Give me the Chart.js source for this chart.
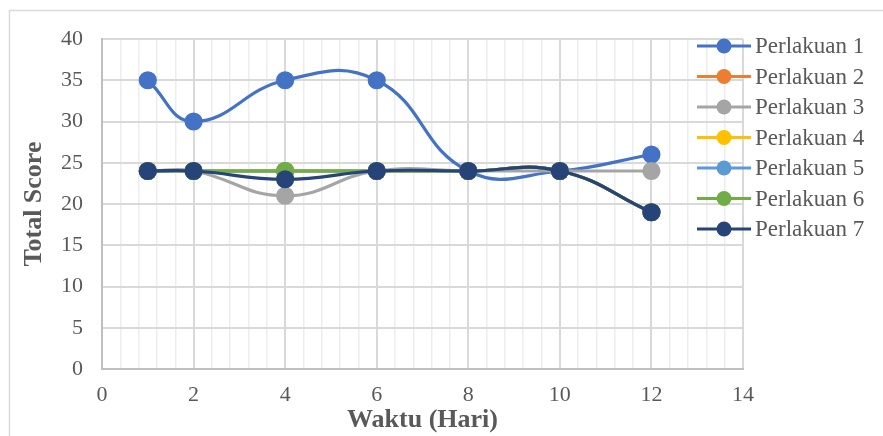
<!DOCTYPE html>
<html>
<head>
<meta charset="utf-8">
<script src="https://cdn.jsdelivr.net/npm/chart.js@4/dist/chart.umd.min.js"></script>
<style>
  html, body { margin: 0; padding: 0; background: #ffffff; }
  #wrap { width: 883px; height: 436px; position: relative; }
</style>
</head>
<body>
<div id="wrap"><canvas id="c" width="883" height="436"></canvas></div>
<script>
// Observation days
const days = [1, 2, 4, 6, 8, 10, 12];

// Total score per treatment
const perlakuan1 = [35, 30, 35, 35, 24, 24, 26];
const perlakuan2 = [24, 24, 24, 24, 24, 24, 19];
const perlakuan3 = [24, 24, 21, 24, 24, 24, 24];
const perlakuan4 = [24, 24, 24, 24, 24, 24, 19];
const perlakuan5 = [24, 24, 24, 24, 24, 24, 19];
const perlakuan6 = [24, 24, 24, 24, 24, 24, 19];
const perlakuan7 = [24, 24, 23, 24, 24, 24, 19];

const seriesNames = ['Perlakuan 1', 'Perlakuan 2', 'Perlakuan 3', 'Perlakuan 4',
                     'Perlakuan 5', 'Perlakuan 6', 'Perlakuan 7'];
const seriesValues = [perlakuan1, perlakuan2, perlakuan3, perlakuan4,
                      perlakuan5, perlakuan6, perlakuan7];
const seriesColors = ['#4472C4', '#ED7D31', '#A5A5A5', '#FFC000',
                      '#5B9BD5', '#70AD47', '#264478'];

const xTitle = 'Waktu (Hari)';
const yTitle = 'Total Score';

const TEXT = '#595959';
const SERIF = '"Liberation Serif", "Times New Roman", serif';

// Later treatments are painted over earlier ones
const datasets = seriesValues.map((vals, i) => ({
  label: seriesNames[i],
  data: days.map((d, j) => ({ x: d, y: vals[j] })),
  order: seriesValues.length - i,
  borderColor: seriesColors[i],
  backgroundColor: seriesColors[i],
  pointBackgroundColor: seriesColors[i],
  pointBorderColor: seriesColors[i],
  pointRadius: 7.5,
  pointHoverRadius: 7.5,
  borderWidth: 3.2,
  tension: 0.45,
  fill: false
}));

const isMajorX = v => Math.abs(v / 2 - Math.round(v / 2)) < 1e-6;

// Outer frame edges of the chart box
const framePlugin = {
  id: 'frame',
  beforeDraw(chart) {
    const ctx = chart.ctx;
    ctx.save();
    ctx.strokeStyle = '#D9D9D9';
    ctx.lineWidth = 1.5;
    ctx.beginPath();
    ctx.moveTo(9.5, chart.height);
    ctx.lineTo(9.5, 10.5);
    ctx.lineTo(chart.width, 10.5);
    ctx.stroke();
    ctx.restore();
  }
};

// Legend drawn over the right side of the plot
const legendPlugin = {
  id: 'sideLegend',
  afterDraw(chart) {
    const ctx = chart.ctx;
    const x0 = 697, x1 = 751, xm = 724, xt = 755;
    const y0 = 46, step = 30.5;
    ctx.save();
    ctx.font = '23px ' + SERIF;
    ctx.textBaseline = 'middle';
    ctx.textAlign = 'left';
    chart.data.datasets.forEach((ds, i) => {
      const y = y0 + i * step;
      ctx.strokeStyle = ds.borderColor;
      ctx.lineWidth = 3.2;
      ctx.beginPath();
      ctx.moveTo(x0, y);
      ctx.lineTo(x1, y);
      ctx.stroke();
      ctx.fillStyle = ds.borderColor;
      ctx.beginPath();
      ctx.arc(xm, y, 7.5, 0, Math.PI * 2);
      ctx.fill();
      ctx.fillStyle = TEXT;
      ctx.fillText(ds.label, xt, y + 1);
    });
    ctx.restore();
  }
};

new Chart(document.getElementById('c'), {
  type: 'line',
  data: { datasets },
  plugins: [framePlugin, legendPlugin],
  options: {
    responsive: false,
    animation: false,
    events: [],
    layout: { padding: { left: 0, top: 39, right: 140, bottom: 0 } },
    plugins: {
      legend: { display: false },
      tooltip: { enabled: false }
    },
    scales: {
      x: {
        type: 'linear',
        min: 0,
        max: 14,
        afterFit(scale) { scale.height = 67; },
        ticks: {
          stepSize: 0.4,
          autoSkip: false,
          maxRotation: 0,
          padding: 13,
          color: TEXT,
          font: { family: SERIF, size: 22 },
          callback: v => (isMajorX(v) ? String(Math.round(v)) : '')
        },
        grid: {
          drawTicks: false,
          color: ctx => (ctx.tick && isMajorX(ctx.tick.value) ? '#D9D9D9' : '#EDEDED'),
          lineWidth: ctx => (ctx.tick && isMajorX(ctx.tick.value) ? 2 : 1.5)
        },
        border: { color: '#BFBFBF', width: 2 },
        title: {
          display: true,
          text: xTitle,
          color: TEXT,
          font: { family: SERIF, size: 26, weight: 'bold' },
          padding: { top: 0, bottom: 0 }
        }
      },
      y: {
        min: 0,
        max: 40,
        afterFit(scale) { scale.width = 102; },
        ticks: {
          stepSize: 5,
          padding: 19,
          color: TEXT,
          font: { family: SERIF, size: 22 }
        },
        grid: {
          drawTicks: false,
          color: '#D9D9D9',
          lineWidth: 2
        },
        border: { color: '#BFBFBF', width: 2 },
        title: {
          display: true,
          text: yTitle,
          color: TEXT,
          font: { family: SERIF, size: 26, weight: 'bold' },
          padding: { top: 19, bottom: 19 }
        }
      }
    }
  }
});
</script>
</body>
</html>
